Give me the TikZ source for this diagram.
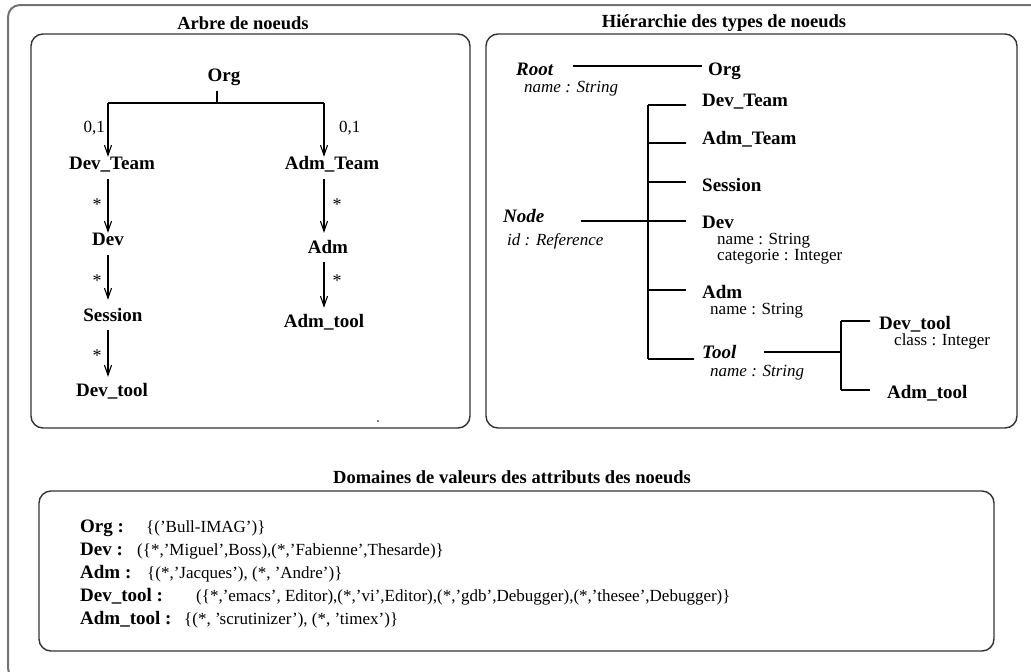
\documentclass[tikz,border=0pt]{standalone}
\usepackage{fontspec}
\setmainfont{Liberation Serif}
\usetikzlibrary{arrows.meta}
\newcommand\fsz[1]{\fontsize{#1}{#1}\selectfont}
\begin{document}
\begin{tikzpicture}[x=1pt,y=-1pt,
  tn/.style={font=\fsz{19}\bfseries, inner sep=0pt, text height=12pt, text depth=4pt},
  hn/.style={font=\fsz{19}\bfseries, inner sep=0pt, anchor=west, text height=12pt, text depth=0pt},
  hi/.style={hn, font=\fsz{19}\bfseries\itshape},
  attr/.style={font=\fsz{17}, inner sep=0pt, anchor=west, text height=12pt, text depth=0pt},
  attri/.style={attr, font=\fsz{17}\itshape},
  card/.style={font=\fsz{17}, inner sep=0pt},
  ttl/.style={font=\fsz{18.5}\bfseries, inner sep=0pt},
  kl/.style={font=\fsz{19}\bfseries, inner sep=0pt, anchor=base west},
  vl/.style={font=\fsz{17}, inner sep=0pt, anchor=base west},
  panel/.style={draw=black!80, line width=1.4pt, rounded corners=12pt},
  frame/.style={draw=black!55, line width=2pt, rounded corners=12pt},
  ln/.style={line width=1.1pt},
  arr/.style={ln, -{Straight Barb[length=10pt,width=7pt]}}]
\useasboundingbox (0,0) rectangle (1031,672);

% outer frame, running past the page on the right and bottom
\begin{scope}
  \clip (0,0) rectangle (1031,672);
  \draw[frame] (8,5) rectangle (1050,680);
\end{scope}

% ---------- node tree ----------
\node[ttl] (t1) at (243,23) {Arbre de noeuds};
\draw[panel] (31,34) rectangle (470,428);
\fill (378,421) circle (0.8pt);

\node[tn] (org) at (224,77) {Org};
\node[tn] (devteam) at (112,165) {Dev\_Team};
\node[tn] (admteam) at (332,165) {Adm\_Team};
\node[tn] (dev) at (108,241) {Dev};
\node[tn] (adm) at (328,249) {Adm};
\node[tn] (session) at (113,317) {Session};
\node[tn] (admtool) at (324,323) {Adm\_tool};
\node[tn] (devtool) at (112,392) {Dev\_tool};

\coordinate (fork) at (217,103);
\coordinate (fL) at (108,103);
\coordinate (fR) at (324,103);
\draw[ln, shorten <=6pt] (fork |- org.south) -- (fork);
\draw[ln] (fL) -- (fR);
\draw[arr] (fL) -- (fL |- devteam.north);
\draw[arr] (fR) -- (fR |- admteam.north);
\draw[arr, shorten <=6pt] (fL |- devteam.south) -- (fL |- dev.north);
\draw[arr, shorten <=6pt, shorten >=9pt] (fL |- dev.south) -- (fL |- session.north);
\draw[arr, shorten <=5pt, shorten >=7pt] (fL |- session.south) -- (fL |- devtool.north);
\draw[arr, shorten <=6pt, shorten >=8pt] (fR |- admteam.south) -- (fR |- adm.north);
\draw[arr, shorten <=5pt, shorten >=7pt] (fR |- adm.south) -- (fR |- admtool.north);

\node[card, anchor=east] (c1) at (105,128) {0,1};
\node[card, anchor=west] (c2) at (339,128) {0,1};
\node[card, anchor=base, font=\fsz{18}] (s1) at (97,210) {*};
\node[card, anchor=base, font=\fsz{18}] (s2) at (97,286) {*};
\node[card, anchor=base, font=\fsz{18}] (s3) at (97,361) {*};
\node[card, anchor=base, font=\fsz{18}] (s4) at (337,210) {*};
\node[card, anchor=base, font=\fsz{18}] (s5) at (337,286) {*};

% ---------- type hierarchy ----------
\node[ttl] (t2) at (724,23) {Hiérarchie des types de noeuds};
\draw[panel] (486,34) rectangle (1017,428);

\node[hi] (root) at (516,69) {Root};
\node[attri] (rootattr) at (524,86) {name : String};
\node[hn] (org2) at (708,69) {Org};
\node[hn] (devteam2) at (702,100) {Dev\_Team};
\node[hn] (admteam2) at (702,138) {Adm\_Team};
\node[hn] (session2) at (702,185) {Session};
\node[hi] (nodeT) at (503,216) {Node};
\node[attri] (nodeattr) at (507,239) {id : Reference};
\node[hn] (dev2) at (702,222) {Dev};
\node[attr] (devattr1) at (717,238) {name : String};
\node[attr] (devattr2) at (717,254) {categorie : Integer};
\node[hn] (adm2) at (702,292) {Adm};
\node[attr] (admattr) at (710,308) {name : String};
\node[hi] (tool) at (702,352) {Tool};
\node[attri] (toolattr) at (710,370) {name : String};
\node[hn] (devtool2) at (879,323) {Dev\_tool};
\node[attr] (devtoolattr) at (894,339) {class : Integer};
\node[hn] (admtool2) at (887,392) {Adm\_tool};

\coordinate (busx) at (648,0);
\coordinate (subx) at (841,0);
\draw[ln, shorten <=20pt, shorten >=6pt] ([yshift=3pt]root.east) -- ([yshift=3pt]root.east -| org2.west);
\draw[ln] ([yshift=-5pt]devteam2.west -| busx) -- ([yshift=-7pt]tool.west -| busx);
\draw[ln, shorten >=16pt] ([yshift=-5pt]devteam2.west -| busx) -- ([yshift=-5pt]devteam2.west);
\draw[ln, shorten >=16pt] ([yshift=-5pt]admteam2.west -| busx) -- ([yshift=-5pt]admteam2.west);
\draw[ln, shorten >=16pt] ([yshift=3pt]session2.west -| busx) -- ([yshift=3pt]session2.west);
\draw[ln, shorten >=16pt] ([yshift=1pt]dev2.west -| busx) -- ([yshift=1pt]dev2.west);
\draw[ln, shorten >=16pt] ([yshift=2pt]adm2.west -| busx) -- ([yshift=2pt]adm2.west);
\draw[ln, shorten >=8pt] ([yshift=-7pt]tool.west -| busx) -- ([yshift=-7pt]tool.west);
\draw[ln, shorten <=36pt] ([yshift=-5pt]nodeT.east) -- ([yshift=-5pt]nodeT.east -| busx);
\draw[ln, shorten <=27pt] (tool.east) -- (tool.east -| subx);
\draw[ln] ([yshift=2pt]devtool2.west -| subx) -- ([yshift=2pt]admtool2.west -| subx);
\draw[ln, shorten >=9pt] ([yshift=2pt]devtool2.west -| subx) -- ([yshift=2pt]devtool2.west);
\draw[ln, shorten >=17pt] ([yshift=2pt]admtool2.west -| subx) -- ([yshift=2pt]admtool2.west);

% ---------- attribute domains ----------
\node[ttl] (t3) at (512,477) {Domaines de valeurs des attributs des noeuds};
\draw[panel] (39,491) rectangle (994,651);

\node[kl] (kOrg) at (80,532) {Org :};
\node[vl] (vOrg) at (146,532) {\{('Bull-IMAG')\}};
\node[kl] (kDev) at (80,555) {Dev :};
\node[vl] (vDev) at (137,555) {(\{*,'Miguel',Boss),(*,'Fabienne',Thesarde)\}};
\node[kl] (kAdm) at (80,578) {Adm :};
\node[vl] (vAdm) at (147,578) {\{(*,'Jacques'), (*, 'Andre')\}};
\node[kl] (kDevtool) at (80,601) {Dev\_tool :};
\node[vl] (vDevtool) at (196,601) {(\{*,'emacs', Editor),(*,'vi',Editor),(*,'gdb',Debugger),(*,'thesee',Debugger)\}};
\node[kl] (kAdmtool) at (80,624) {Adm\_tool :};
\node[vl] (vAdmtool) at (184,624) {\{(*, 'scrutinizer'), (*, 'timex')\}};
\end{tikzpicture}
\end{document}
